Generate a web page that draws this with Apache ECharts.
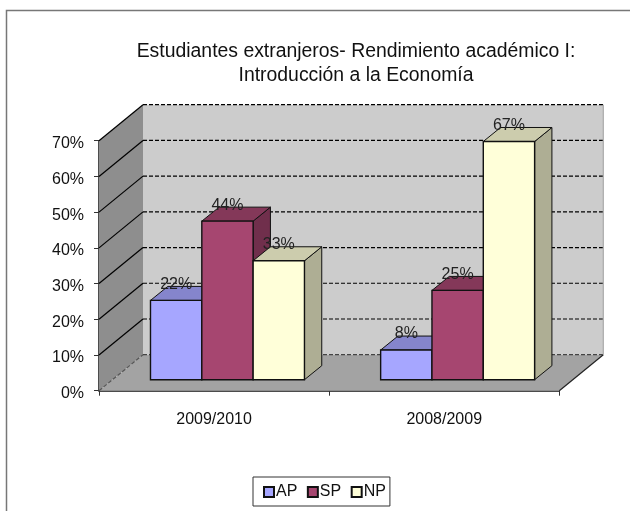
<!DOCTYPE html>
<html>
<head>
<meta charset="utf-8">
<style>
html, body { margin: 0; padding: 0; background: #fff; }
#main { width: 630px; height: 511px; }
</style>
</head>
<body>
<div id="main"></div>
<script src="https://cdn.jsdelivr.net/npm/echarts@6/dist/echarts.min.js"></script>
<script>
var categories = ['2009/2010', '2008/2009']
var seriesNames = ['AP', 'SP', 'NP']
var apValues = [22.2, 8.3]
var spValues = [44.4, 25.0]
var npValues = [33.3, 66.7]
var wallTicks = [0, 10, 20, 30, 40, 50, 60, 70]

var fontName = '"Liberation Sans", Arial, sans-serif'
// depth of the box and of the bars, in pixels
var boxDx = 44, boxDy = -36
var planeDx = 13.4, planeDy = -11
var barDx = 17.3, barDy = -14
var barRatio = 0.223

var colors = [
    { front: '#a6a6ff', top: '#8585cc', side: '#7070ad' },
    { front: '#a64670', top: '#843859', side: '#702f4c' },
    { front: '#ffffd9', top: '#ccccad', side: '#aeae94' }
]

function poly(points, fill, stroke, lineWidth) {
    return {
        type: 'polygon',
        shape: { points: points },
        style: { fill: fill, stroke: stroke || null, lineWidth: lineWidth || 0 }
    }
}

function line(p1, p2, color, dash) {
    return {
        type: 'line',
        shape: { x1: p1[0], y1: p1[1], x2: p2[0], y2: p2[1] },
        style: { stroke: color, lineWidth: 1.2, lineDash: dash ? [4, 2] : null }
    }
}

// side wall, back wall, floor and the lines on them
function renderWalls(params, api) {
    if (params.dataIndex !== 0) return
    var o = api.coord([categories[0], 0])
    var t = api.coord([categories[0], 70])
    var band = api.size([1, 0])[0]
    var x0 = o[0] - band / 2
    var x1 = x0 + band * categories.length
    var y0 = o[1], y1 = t[1]
    var kids = [
        poly([[x0 + boxDx, y0 + boxDy], [x1 + boxDx, y0 + boxDy], [x1 + boxDx, y1 + boxDy], [x0 + boxDx, y1 + boxDy]], '#cccccc'),
        poly([[x0, y0], [x0 + boxDx, y0 + boxDy], [x0 + boxDx, y1 + boxDy], [x0, y1]], '#8e8e8e'),
        poly([[x0, y0], [x1, y0], [x1 + boxDx, y0 + boxDy], [x0 + boxDx, y0 + boxDy]], '#a3a3a3')
    ]
    wallTicks.forEach(function (v) {
        var y = api.coord([categories[0], v])[1]
        kids.push(line([x0, y], [x0 + boxDx, y + boxDy], v === 0 ? '#555' : '#000', v === 0))
        kids.push(line([x0 + boxDx, y + boxDy], [x1 + boxDx, y + boxDy], v === 0 ? '#444' : '#000', true))
    })
    kids.push(line([x1, y0], [x1 + boxDx, y0 + boxDy], '#222', false))
    kids.push(line([x1 + boxDx, y0 + boxDy], [x1 + boxDx, y1 + boxDy], '#aaa', false))
    return { type: 'group', children: kids }
}

function makeBarRender(seriesIndex) {
    return function (params, api) {
        var c = colors[seriesIndex]
        var band = api.size([1, 0])[0]
        var bw = band * barRatio
        var center = api.coord([api.value(0), 0])
        var value = api.value(1)
        var x0 = center[0] + planeDx + (seriesIndex - 1.5) * bw
        var x1 = x0 + bw
        var yb = center[1] + planeDy
        var yt = api.coord([api.value(0), value])[1] + planeDy
        return {
            type: 'group',
            children: [
                poly([[x1, yt], [x1 + barDx, yt + barDy], [x1 + barDx, yb + barDy], [x1, yb]], c.side, '#111', 1),
                poly([[x0, yt], [x1, yt], [x1 + barDx, yt + barDy], [x0 + barDx, yt + barDy]], c.top, '#111', 1),
                poly([[x0, yb], [x1, yb], [x1, yt], [x0, yt]], c.front, '#111', 1.4),
                {
                    type: 'text',
                    style: {
                        x: (x0 + x1) / 2,
                        y: yt - 16,
                        text: Math.round(value) + '%',
                        fill: '#222',
                        font: '16px ' + fontName,
                        align: 'center',
                        verticalAlign: 'middle'
                    }
                }
            ]
        }
    }
}

var valueLists = [apValues, spValues, npValues]
var barSeries = seriesNames.map(function (name, i) {
    return {
        name: name,
        type: 'custom',
        renderItem: makeBarRender(i),
        itemStyle: { color: colors[i].front, borderColor: '#111', borderWidth: 1.5 },
        encode: { x: 0, y: 1 },
        data: categories.map(function (c, j) { return [c, valueLists[i][j]] }),
        z: 3 + i
    }
})

var myChart = echarts.init(document.getElementById('main'))
var option = {
    backgroundColor: '#fff',
    animation: false,
    title: {
        text: 'Estudiantes extranjeros- Rendimiento académico I:\nIntroducción a la Economía',
        left: 351,
        top: 35,
        textAlign: 'center',
        textStyle: { fontFamily: fontName, fontSize: 19.4, fontWeight: 'normal', color: '#111', lineHeight: 24 }
    },
    grid: { left: 99, top: 140.7, width: 460.3, height: 250 },
    xAxis: {
        type: 'category',
        data: categories,
        axisLine: { lineStyle: { color: '#111', width: 1.5 } },
        axisTick: { show: true, length: 5, alignWithLabel: false, lineStyle: { color: '#333' } },
        axisLabel: { fontFamily: fontName, fontSize: 16, color: '#111', margin: 21 }
    },
    yAxis: {
        type: 'value',
        min: 0,
        max: 70,
        interval: 10,
        axisLine: { show: true, lineStyle: { color: '#111', width: 1.5 } },
        axisTick: { show: true, length: 5, lineStyle: { color: '#333' } },
        splitLine: { show: false },
        axisLabel: {
            margin: 15,
            formatter: '{a|{value}%}',
            rich: { a: { fontFamily: fontName, fontSize: 16, color: '#111', padding: [6, 0, 0, 0] } }
        }
    },
    legend: {
        data: seriesNames,
        left: 253,
        top: 477,
        itemWidth: 10,
        itemHeight: 10,
        itemGap: 9.5,
        padding: [7, 4, 6, 10],
        icon: 'rect',
        borderColor: '#333',
        borderWidth: 1,
        textStyle: { fontFamily: fontName, fontSize: 16, color: '#111', padding: [0, 0, 0, -3] }
    },
    graphic: [{
        type: 'rect',
        shape: { x: 6.5, y: 10.5, width: 640, height: 520 },
        style: { fill: 'none', stroke: '#777', lineWidth: 1.5 },
        silent: true
    }],
    series: [{
        type: 'custom',
        renderItem: renderWalls,
        encode: { x: 0, y: 1 },
        silent: true,
        data: [[categories[0], 0]],
        z: 1
    }].concat(barSeries)
}
myChart.setOption(option)
</script>
</body>
</html>
